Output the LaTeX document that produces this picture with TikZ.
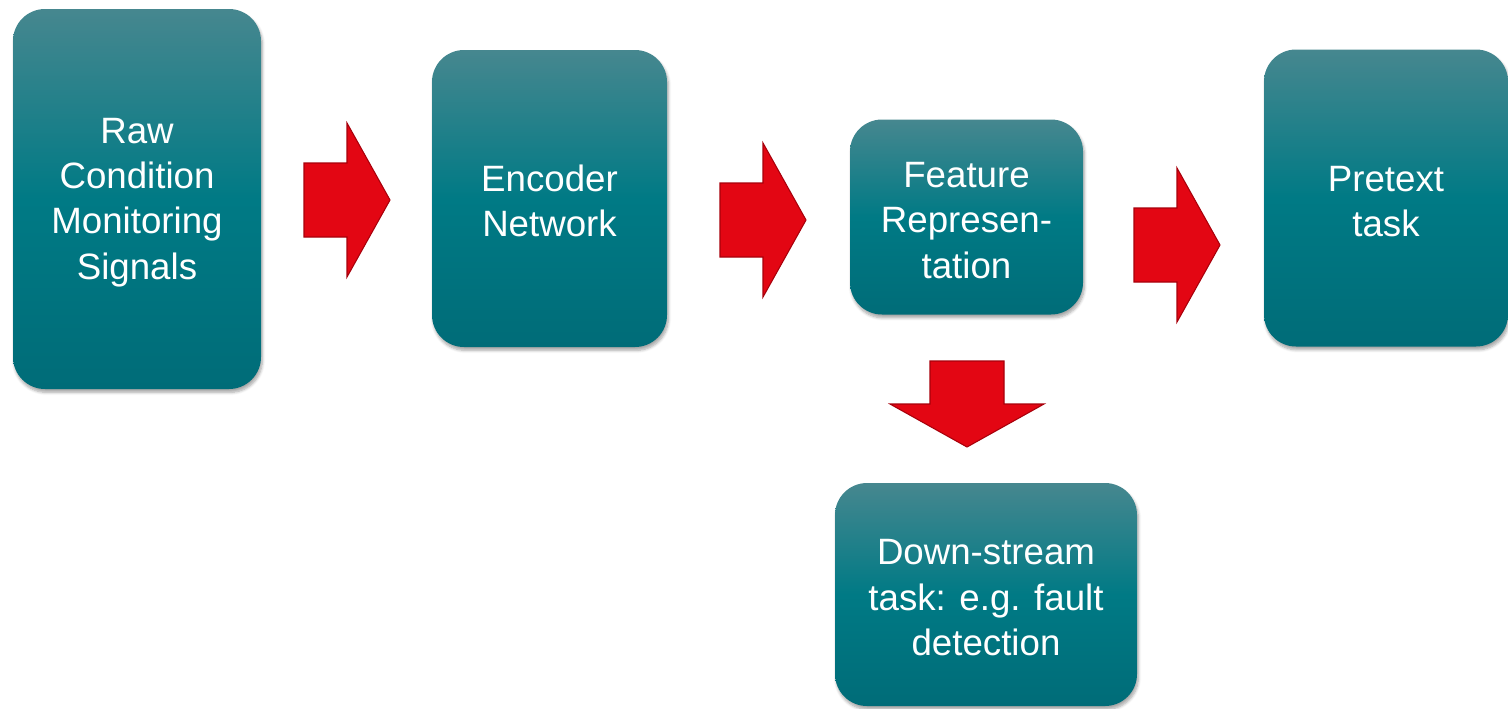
\documentclass[tikz,border=0pt]{standalone}
\usepackage{fontspec}
\setmainfont{Liberation Sans}
\usetikzlibrary{shadows.blur}
\definecolor{tealtop}{RGB}{70,135,143}
\definecolor{tealmid}{RGB}{0,122,133}
\definecolor{tealbot}{RGB}{0,108,120}
\definecolor{arrowred}{RGB}{227,6,19}
\definecolor{arrowedge}{RGB}{168,0,11}
\tikzset{
x=0.75pt, y=-0.75pt, % one unit is one pixel, y goes down
box/.style={rounded corners=24pt, inner sep=0pt, % the teal blocks
  top color=tealtop, bottom color=tealbot, middle color=tealmid,
  text=white, align=center, font=\fontsize{27.5}{34}\selectfont,
  blur shadow={shadow xshift=1pt, shadow yshift=-2.5pt, shadow opacity=35, shadow blur steps=6}},
blockarrow/.pic={ % fat red arrow, origin at the base of the head
  \filldraw[fill=arrowred, draw=arrowedge, line width=0.8pt]
    (-43,-37) -- (0,-37) -- (0,-77) -- (43,0) -- (0,77) -- (0,37) -- (-43,37) -- cycle;
},
}

\begin{document}
\begin{tikzpicture}
    \useasboundingbox (0,0) rectangle (1508,708);

    \node[box, minimum width=186pt, minimum height=285pt] (raw) at (137,199)
        {\strut Raw\\Condition\\Monitoring\\Signals};
    \node[box, minimum width=176.25pt, minimum height=222.75pt] (enc) at (549.5,198.5)
        {\strut Encoder\\Network};
    \node[box, minimum width=174.75pt, minimum height=146.25pt] (feat) at (966.5,217)
        {\strut Feature\\Represen-\\tation};
    \node[box, minimum width=183pt, minimum height=222.75pt] (pre) at (1386,198)
        {\strut Pretext\\task};
    \node[box, minimum width=226.5pt, minimum height=167.25pt] (down) at (986,594.5)
        {\strut Down-stream\\task: e.g. fault\\detection};

    \coordinate (a1) at (347,200);
    \coordinate (a2) at (763,220);
    \coordinate (a3) at (1177,245);
    \coordinate (a4) at (967,404);

    \pic at (a1) {blockarrow};
    \pic at (a2) {blockarrow};
    \pic at (a3) {blockarrow};
    \pic[rotate=-90] at (a4) {blockarrow};
\end{tikzpicture}
\end{document}
